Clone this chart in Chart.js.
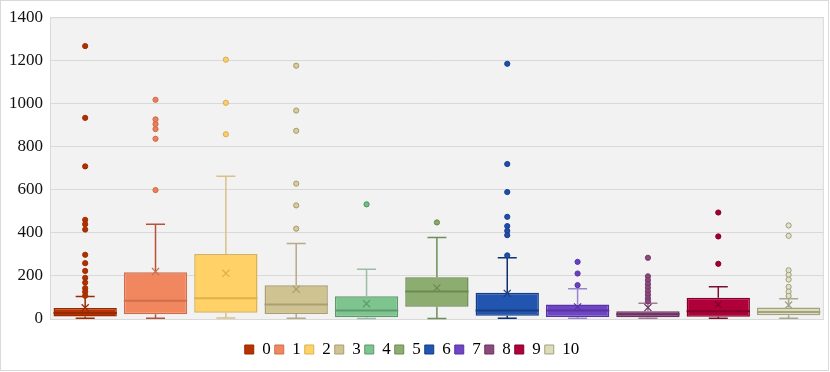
<!DOCTYPE html>
<html>
<head>
<meta charset="utf-8">
<script src="https://cdn.jsdelivr.net/npm/chart.js@4.4.1/dist/chart.umd.min.js"></script>
<style>
  html, body { margin: 0; padding: 0; background: #fff; }
  #wrap { width: 830px; height: 372px; position: relative; }
</style>
</head>
<body>
<div id="wrap"><canvas id="boxChart" width="830" height="372"></canvas></div>
<script>
// groups and their box plot stats
const categories = ['0', '1', '2', '3', '4', '5', '6', '7', '8', '9', '10'];
const whiskerLow = [3, 3, 5, 3, 2, 2, 3, 3, 3, 3, 3];
const q1Values = [12, 22, 29, 23, 8, 57, 15, 9, 8, 11, 17];
const medianValues = [28, 85, 96, 67, 40, 127, 39, 39, 22, 36, 33];
const q3Values = [51, 217, 301, 157, 106, 194, 122, 67, 36, 98, 53];
const whiskerHigh = [104, 439, 662, 350, 231, 378, 284, 140, 73, 150, 94];
const meanValues = [52, 220, 212, 138, 71, 144, 119, 56, 53, 67, 65];
const outliers = [
  [1266, 933, 708, 460, 440, 415, 298, 259, 223, 191, 169, 143, 126, 108],
  [1017, 926, 904, 881, 836, 598],
  [1203, 1003, 857],
  [1175, 967, 873, 628, 527, 419],
  [532],
  [448],
  [1184, 719, 589, 474, 431, 409, 389, 295],
  [265, 211, 157],
  [284, 198, 180, 162, 145, 128, 112, 96, 82],
  [494, 383, 256],
  [434, 386, 226, 205, 183, 149, 127, 107]
];
const yTicks = [0, 200, 400, 600, 800, 1000, 1200, 1400];

// colours
const fillColors = ['#b83200', '#f1875f', '#ffd166', '#cfc491', '#7dc48e', '#8cad6f', '#2255b0', '#6f45c6', '#8b4a7b', '#b0003b', '#dcdcb6'];
const edgeColors = ['#972800', '#cf6e4c', '#d9b350', '#a99e74', '#5d9a6c', '#6c8a52', '#143c82', '#5634a2', '#6c3260', '#820029', '#a3a283'];
const whiskerColors = ['#9b2a00', '#b5523a', '#d9c089', '#b3ab8b', '#9dbba5', '#6e8f58', '#0f2f72', '#9a86cc', '#a27a98', '#7a1030', '#a8a890'];
const pointFill = ['#b03000', '#e8805c', '#f8cf6c', '#d6cc9c', '#6fbf82', '#86a96a', '#1e4ea8', '#6a40c0', '#8a4a7a', '#a0002e', '#e2e2c4'];
const pointEdge = ['#a02c00', '#d06a48', '#d6ae4e', '#a89a6a', '#4f9060', '#6a8a52', '#183f90', '#5a34a8', '#74386a', '#88002a', '#9e9e80'];

const serif = "'Liberation Serif', 'Times New Roman', serif";

const outlierPoints = [];
const outlierFill = [];
const outlierEdge = [];
outliers.forEach((list, i) => {
  list.forEach(v => {
    outlierPoints.push({ x: categories[i], y: v });
    outlierFill.push(pointFill[i]);
    outlierEdge.push(pointEdge[i]);
  });
});

// frame + plot background
const backdrop = {
  id: 'backdrop',
  beforeDraw(chart) {
    const { ctx, chartArea: a } = chart;
    ctx.save();
    ctx.fillStyle = '#fff';
    ctx.fillRect(0, 0, chart.width, chart.height);
    ctx.strokeStyle = '#d9d9d9';
    ctx.lineWidth = 1;
    ctx.strokeRect(0.5, 0.5, chart.width - 2, chart.height - 2);
    ctx.fillStyle = '#f2f2f2';
    ctx.fillRect(a.left, a.top, a.right - a.left, a.bottom - a.top);
    ctx.strokeStyle = '#d9d9d9';
    ctx.strokeRect(a.left + 0.5, a.top + 0.5, a.right - a.left - 1, a.bottom - a.top);
    ctx.restore();
  }
};

// whiskers and median lines, drawn right after the boxes
const boxParts = {
  id: 'boxParts',
  afterDatasetDraw(chart, args) {
    if (args.index !== 0) return;
    const { ctx } = chart;
    const xs = chart.scales.x, ys = chart.scales.y;
    const meta = chart.getDatasetMeta(0);
    ctx.save();
    categories.forEach((c, i) => {
      const bar = meta.data[i];
      const cx = xs.getPixelForValue(i);
      const half = bar.width / 2;
      const cap = 9.5;
      ctx.strokeStyle = whiskerColors[i];
      ctx.lineWidth = 1.5;
      ctx.beginPath();
      ctx.moveTo(cx, ys.getPixelForValue(q3Values[i]));
      ctx.lineTo(cx, ys.getPixelForValue(whiskerHigh[i]));
      ctx.moveTo(cx - cap, ys.getPixelForValue(whiskerHigh[i]));
      ctx.lineTo(cx + cap, ys.getPixelForValue(whiskerHigh[i]));
      ctx.moveTo(cx, ys.getPixelForValue(q1Values[i]));
      ctx.lineTo(cx, ys.getPixelForValue(whiskerLow[i]));
      ctx.moveTo(cx - cap, ys.getPixelForValue(whiskerLow[i]));
      ctx.lineTo(cx + cap, ys.getPixelForValue(whiskerLow[i]));
      ctx.stroke();
      ctx.strokeStyle = edgeColors[i];
      ctx.lineWidth = 2;
      ctx.beginPath();
      const my = ys.getPixelForValue(medianValues[i]);
      ctx.moveTo(cx - half, my);
      ctx.lineTo(cx + half, my);
      ctx.stroke();
    });
    ctx.restore();
  }
};

new Chart(document.getElementById('boxChart'), {
  type: 'bar',
  data: {
    labels: categories,
    datasets: [
      {
        label: 'box',
        data: categories.map((c, i) => [q1Values[i], q3Values[i]]),
        backgroundColor: fillColors,
        borderColor: edgeColors,
        borderWidth: 1.5,
        borderSkipped: false,
        barPercentage: 0.9,
        categoryPercentage: 1,
        order: 3
      },
      {
        type: 'line',
        label: 'outliers',
        data: outlierPoints,
        showLine: false,
        pointRadius: 2.6,
        pointBorderWidth: 1,
        pointBackgroundColor: outlierFill,
        pointBorderColor: outlierEdge,
        order: 2
      },
      {
        type: 'line',
        label: 'mean',
        data: categories.map((c, i) => ({ x: c, y: meanValues[i] })),
        showLine: false,
        pointStyle: 'crossRot',
        pointRadius: 5,
        pointBorderWidth: 1.2,
        pointBorderColor: edgeColors,
        order: 1
      }
    ]
  },
  options: {
    responsive: false,
    animation: false,
    layout: { padding: { left: 0, right: 6, top: 8, bottom: 4 } },
    scales: {
      x: {
        grid: { display: false },
        border: { display: false },
        ticks: { display: false },
        afterFit(scale) { scale.height = 18; }
      },
      y: {
        min: 0,
        max: 1400,
        afterBuildTicks(scale) { scale.ticks = yTicks.map(v => ({ value: v })); },
        afterFit(scale) { scale.width = 50; },
        border: { display: false },
        grid: { color: '#d9d9d9', lineWidth: 1, drawTicks: false },
        ticks: {
          padding: 7,
          color: '#111',
          font: { family: serif, size: 17 },
          callback: v => String(v)
        }
      }
    },
    plugins: {
      tooltip: { enabled: false },
      legend: {
        position: 'bottom',
        onClick: null,
        labels: {
          boxWidth: 9,
          boxHeight: 9,
          padding: 4,
          color: '#111',
          font: { family: serif, size: 17 },
          generateLabels() {
            return categories.map((c, i) => ({
              text: c,
              fillStyle: fillColors[i],
              strokeStyle: edgeColors[i],
              lineWidth: 1,
              hidden: false,
              datasetIndex: 0
            }));
          }
        }
      }
    }
  },
  plugins: [backdrop, boxParts]
});
</script>
</body>
</html>
